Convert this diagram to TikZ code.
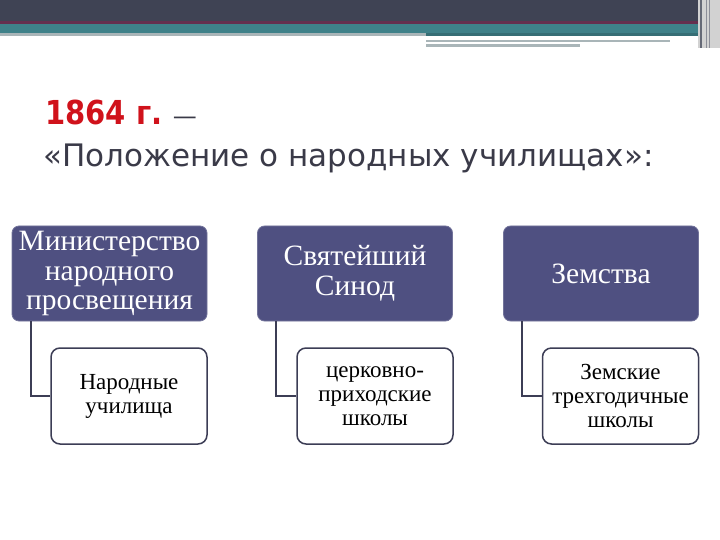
\documentclass[tikz,border=0pt]{standalone}
\usepackage{fontspec}
\setmainfont{Liberation Serif}
\newfontfamily\titlefont{DejaVu Sans}
\definecolor{barDark}{HTML}{3F4354}
\definecolor{barTeal}{HTML}{3F8189}
\definecolor{barGray}{HTML}{A9B5B8}
\definecolor{topFill}{HTML}{4F5081}
\definecolor{lineCol}{HTML}{3C3D55}
\definecolor{titleRed}{HTML}{D0121B}
\definecolor{titleGray}{HTML}{3A3A48}
\tikzset{
  topbox/.style={draw=topFill!80!white, line width=0.8pt, fill=topFill, rounded corners=7pt,
    minimum width=195pt, minimum height=95pt, text=white, align=center,
    font=\fontsize{29.5}{29.5}\selectfont, inner sep=0pt},
  subbox/.style={draw=lineCol, line width=1.5pt, fill=white, rounded corners=9pt,
    minimum width=156pt, minimum height=96pt, text=black, align=center,
    font=\fontsize{23}{24}\selectfont, inner sep=0pt},
  conn/.style={draw=lineCol, line width=2pt}
}
\begin{document}
\begin{tikzpicture}[x=1pt,y=-1pt]
\useasboundingbox (0,0) rectangle (720,540);
% header bars
\fill[barDark] (0,0) rectangle (720,22);
\fill[barDark!70!purple] (0,21) rectangle (720,24);
\fill[barTeal] (0,24) rectangle (700,33);
\fill[barGray] (0,33) rectangle (426,36);
\fill[barTeal!85!black] (426,33) rectangle (700,36);
\fill[barGray] (426,40) rectangle (670,42);
\fill[barGray] (426,44) rectangle (580,47);
\fill[gray!35] (698,0) rectangle (720,48);
\fill[barDark!80] (700,0) rectangle (701.5,48);
\fill[barDark!60] (706,0) rectangle (707,48);
\fill[barDark!60] (709,0) rectangle (710,48);
% title
\node[anchor=base west, inner sep=0pt, font=\titlefont\fontsize{33}{36}\selectfont] (t1) at (45,125)
  {\scalebox{0.88}[1]{\textcolor{titleRed}{\bfseries 1864 г.}} \textcolor{titleGray}{\fontsize{24}{24}\selectfont —}};
\node[anchor=base west, inner sep=0pt, font=\titlefont\fontsize{31}{36}\selectfont, text=titleGray] (t2) at (43,167)
  {«Положение о народных училищах»:};
% top boxes
\node[topbox] (a) at (109.5,273.5) {Министерство\\народного\\просвещения};
\node[topbox] (b) at (355,273.5) {Святейший\\Синод};
\node[topbox] (c) at (601,273.5) {Земства};
% sub boxes
\node[subbox] (a2) at (129,396) {Народные\\училища};
\node[subbox] (b2) at (375,396) {церковно-\\приходские\\школы};
\node[subbox] (c2) at (620.5,396) {Земские\\трехгодичные\\школы};
% connectors
\draw[conn] (a.south west) ++(19,0) |- (a2.west);
\draw[conn] (b.south west) ++(19,0) |- (b2.west);
\draw[conn] (c.south west) ++(19,0) |- (c2.west);
\end{tikzpicture}
\end{document}
